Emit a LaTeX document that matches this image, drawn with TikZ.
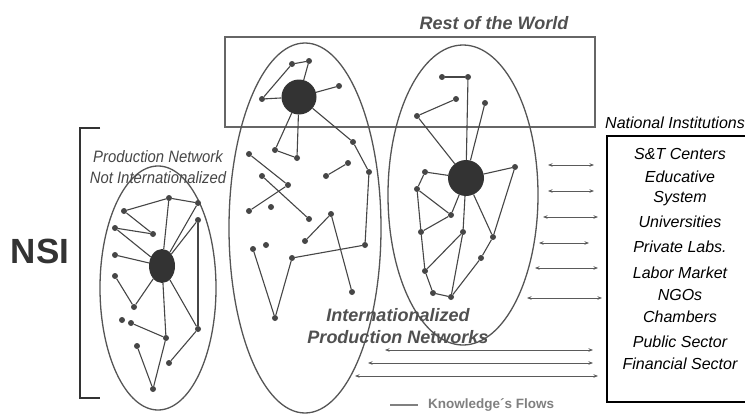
\documentclass[tikz,border=0pt]{standalone}
\usepackage{fontspec}
\setmainfont{Liberation Sans}
\newfontfamily\condfont[FakeStretch=0.9]{Liberation Sans}
\usetikzlibrary{arrows.meta,shapes.geometric}
\definecolor{netgray}{HTML}{464646}
\definecolor{hubgray}{HTML}{333333}
\definecolor{ringgray}{HTML}{555555}
\definecolor{flowgray}{HTML}{5A5A5A}
\definecolor{labelgray}{HTML}{505050}
\begin{document}
\begin{tikzpicture}[x=1pt,y=-1pt,
  net/.style={draw=netgray,line width=1.1pt},
  dot/.style={circle,fill=netgray,inner sep=0pt,minimum size=6pt},
  hub/.style={circle,fill=hubgray,inner sep=0pt},
  ring/.style={ellipse,draw=ringgray,line width=1.3pt,inner sep=0pt},
  flow/.style={draw=flowgray,line width=1pt,
    {Stealth[length=4.5pt,width=3.5pt]}-{Stealth[length=4.5pt,width=3.5pt]}},
  boxlabel/.style={anchor=base,font=\fontsize{16}{18}\selectfont\itshape,text=black},
  bigitalic/.style={anchor=base,font=\fontsize{18}{20}\selectfont\bfseries\itshape,text=labelgray},
  conditalic/.style={anchor=base,font=\fontsize{16.5}{18}\selectfont\condfont\itshape,text=netgray}]
\useasboundingbox (0,0) rectangle (745,415);
\clip (0,0) rectangle (745,415);
\fill[white] (0,0) rectangle (745,415);

% ---- NSI bracket and title ----
\node[anchor=base,font=\fontsize{35}{38}\selectfont\bfseries,text=hubgray] (nsi) at (40,263) {NSI};
\draw[draw=hubgray,line width=2.6pt] (100,128) -- (80,128) -- (80,398) -- (100,398);

% ---- Rest of the World frame ----
\node[bigitalic] (rowtitle) at (494,30) {Rest of the World};
\node[draw=ringgray!90,line width=2pt,minimum width=370pt,minimum height=90pt,inner sep=0pt] (row) at (410,82) {};

% ---- the three production networks ----
\node[ring,minimum width=116pt,minimum height=244pt] (leftring) at (158,288) {};
\node[ring,minimum width=152pt,minimum height=370pt] (midring) at (305,228) {};
\node[ring,minimum width=150pt,minimum height=300pt] (rightring) at (463,195) {};

% left network (not internationalized)
\node[ellipse,fill=hubgray,inner sep=0pt,minimum width=26pt,minimum height=34pt] (A) at (162,266) {};
\foreach \n/\x/\y in {a1/169/198,a2/198/203,a3/124/211,a4/153/234,a5/115/228,a6/198/220,
  a7/115/255,a8/115/276,a9/134/307,a10/122/320,a11/131/323,a12/166/338,a13/198/329,
  a14/137/346,a15/169/363,a16/153/389}
  \node[dot] (\n) at (\x,\y) {};
\foreach \p/\q in {a3/a1,a1/a2,a1/A,a2/A,a6/A,a6/a13,a3/a4,a4/a5,a5/A,a7/A,a8/a9,a9/A,
  A/a12,a12/a11,a12/a16,a14/a16,A/a13,a13/a15}
  \draw[net] (\p) -- (\q);

% middle network (internationalized)
\node[hub,minimum size=35pt] (B) at (299,97) {};
\foreach \n/\x/\y in {b1/292/64,b2/309/61,b3/339/86,b4/262/99,b5/275/150,b6/297/158,
  b7/353/142,b8/369/172,b9/365/245,b10/292/258,b11/275/318,b12/253/249,b13/348/163,
  b14/326/176,b15/249/154,b16/288/185,b17/249/211,b18/262/176,b19/309/219,b20/271/207,
  b21/331/214,b22/305/241,b23/352/292,b26/266/245}
  \node[dot] (\n) at (\x,\y) {};
\foreach \p/\q in {b4/b1,b1/b2,b2/B,b4/B,B/b3,B/b5,b5/b6,b6/B,B/b7,b7/b8,b8/b9,b9/b10,
  b10/b11,b11/b12,b13/b14,b15/b16,b16/b17,b18/b19,b21/b22,b21/b23}
  \draw[net] (\p) -- (\q);

% right network (internationalized)
\node[hub,minimum size=36pt] (C) at (466,178) {};
\foreach \n/\x/\y in {c1/442/77,c2/468/77,c3/456/99,c4/417/116,c5/485/103,c6/515/167,
  c7/425/172,c8/417/189,c9/451/215,c10/421/232,c12/463/232,c14/493/237,c15/481/258,
  c11/425/271,c16/433/293,c13/451/297}
  \node[dot] (\n) at (\x,\y) {};
\foreach \p/\q in {c1/c2,c2/C,c3/c4,c4/C,c5/C,C/c6,c6/c14,C/c14,c7/C,c7/c8,c8/c9,c9/C,
  c9/c10,c8/c10,c10/c11,c11/c12,C/c12,c12/c13,c13/c15,c15/c14,c11/c16,c16/c13}
  \draw[net] (\p) -- (\q);

% ---- network captions ----
\node[conditalic] (pn1) at (158,162) {Production Network};
\node[conditalic] (pn2) at (158,183) {Not Internationalized};
\node[bigitalic] (ipn1) at (398,321) {Internationalized};
\node[bigitalic] (ipn2) at (398,343) {Production Networks};

% ---- national institutions ----
\node[anchor=base west,font=\fontsize{16}{18}\selectfont\itshape,text=black,inner sep=0pt] (nattitle) at (605,128) {National Institutions};
\node[draw=black,line width=1.8pt,minimum width=153pt,minimum height=266pt,inner sep=0pt] (instbox) at (683.5,269) {};
\foreach \n/\y/\t in {i1/159.5/S\&T Centers,i2/182.5/Educative,i3/202/System,
  i4/227/Universities,i5/252.5/Private Labs.,i6/278/Labor Market,i7/300/NGOs,
  i8/322/Chambers,i9/347/Public Sector,i10/369/Financial Sector}
  \node[boxlabel] (\n) at (680,\y) {\t};

% ---- knowledge flows ----
\foreach \i/\y/\xa/\xb in {1/165/548/594,2/191/548/594,3/217/543/598,4/243/539/589,
  5/268/535/598,6/298/527/602,7/350/385/593,8/363/368/593,9/376/355/598}{
  \coordinate (fw\i) at (\xa,\y);
  \coordinate (fe\i) at (\xb,\y);
  \draw[flow] (fw\i) -- (fe\i);
}

% legend
\coordinate (lega) at (390,405);
\coordinate (legb) at (418,405);
\draw[draw=gray,line width=2pt] (lega) -- (legb);
\node[anchor=base west,font=\fontsize{13.5}{15}\selectfont\bfseries,text=gray,inner sep=0pt] (legtext) at (428,408.5) {Knowledge´s Flows};
\end{tikzpicture}
\end{document}
